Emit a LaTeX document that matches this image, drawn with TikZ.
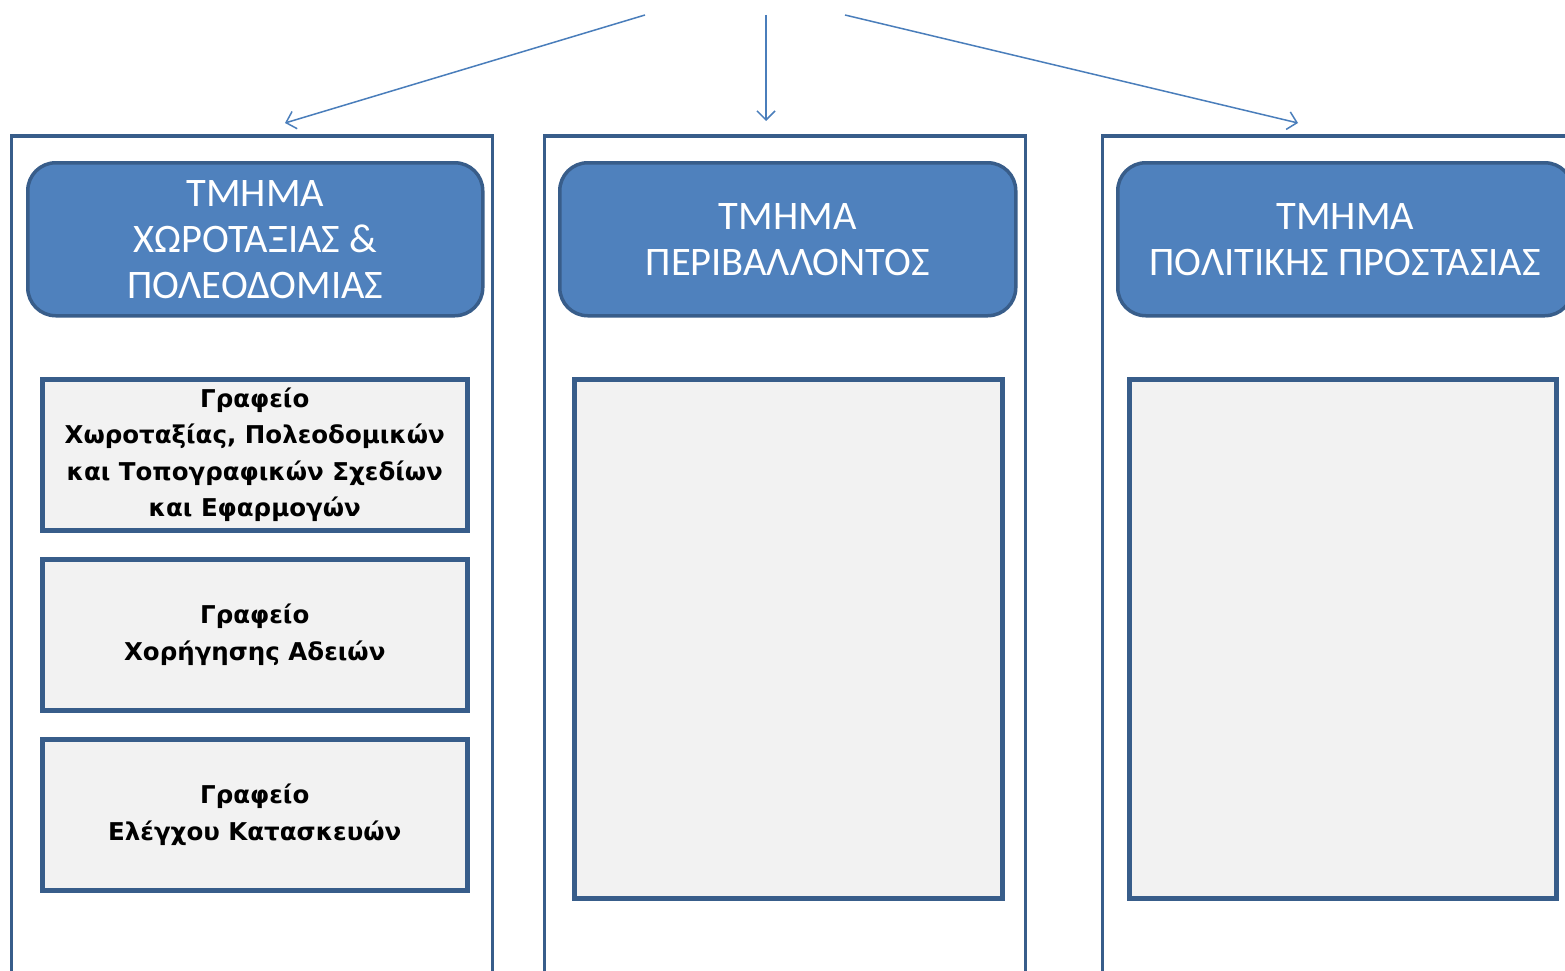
\documentclass[tikz,border=0pt]{standalone}
\usepackage{fontspec}
\setmainfont{Carlito}
\newfontfamily\boxfont{DejaVu Sans}
\usetikzlibrary{arrows.meta}
\definecolor{hdrfill}{HTML}{4F81BD}
\definecolor{hdrdraw}{HTML}{385D8A}
\definecolor{boxfill}{HTML}{F2F2F2}
\definecolor{arr}{HTML}{4A7EBB}
\begin{document}
\begin{tikzpicture}[x=1pt,y=-1pt,
 col/.style={draw=hdrdraw, line width=3pt, fill=white, anchor=north west, inner sep=0pt, outer sep=0pt, minimum width=481pt, minimum height=860pt},
 hdr/.style={draw=hdrdraw, line width=3.5pt, fill=hdrfill, rounded corners=28pt, anchor=north west, text=white, font=\fontsize{40.5}{46}\selectfont, align=center, inner sep=0pt, minimum width=455pt, minimum height=153pt},
 office/.style={draw=hdrdraw, line width=4.5pt, fill=boxfill, anchor=north west, font=\boxfont\bfseries\fontsize{24.5}{36.5}\selectfont, align=center, inner sep=0pt, minimum width=425pt},
 conn/.style={draw=arr, line width=1.5pt, -{Straight Barb[length=9pt,width=18pt]}}]
\useasboundingbox (0,0) rectangle (1565,971);
\fill[white] (0,0) rectangle (1565,971);
% columns
\node[col] (colL) at (11,136) {};
\node[col] (colM) at (544,136) {};
\node[col] (colR) at (1102,136) {};
% headers
\node[hdr] (hL) at (26,161) {ΤΜΗΜΑ\\ΧΩΡΟΤΑΞΙΑΣ \&\\ΠΟΛΕΟΔΟΜΙΑΣ};
\node[hdr, minimum width=456pt] (hM) at (558,161) {ΤΜΗΜΑ\\ΠΕΡΙΒΑΛΛΟΝΤΟΣ};
\node[hdr] (hR) at (1116,161) {ΤΜΗΜΑ\\ΠΟΛΙΤΙΚΗΣ ΠΡΟΣΤΑΣΙΑΣ};
% offices
\node[office, minimum height=151pt] (o1) at (40,377) {Γραφείο\\Χωροταξίας, Πολεοδομικών\\και Τοπογραφικών Σχεδίων\\και Εφαρμογών};
\node[office, minimum height=151pt] (o2) at (40,557) {Γραφείο\\Χορήγησης Αδειών};
\node[office, minimum height=151pt] (o3) at (40,737) {Γραφείο\\Ελέγχου Κατασκευών};
\node[office, minimum width=428pt, minimum height=519pt] (oM) at (572,377) {};
\node[office, minimum width=427pt, minimum height=519pt] (oR) at (1127,377) {};
% connectors
\coordinate (s1) at (645,15);
\coordinate (s2) at (766,15);
\coordinate (s3) at (845,15);
\coordinate (e1) at (285,123);
\coordinate (e2) at (766,121);
\coordinate (e3) at (1298,123);
\draw[conn] (s1) -- (e1);
\draw[conn] (s2) -- (e2);
\draw[conn] (s3) -- (e3);
\end{tikzpicture}
\end{document}
